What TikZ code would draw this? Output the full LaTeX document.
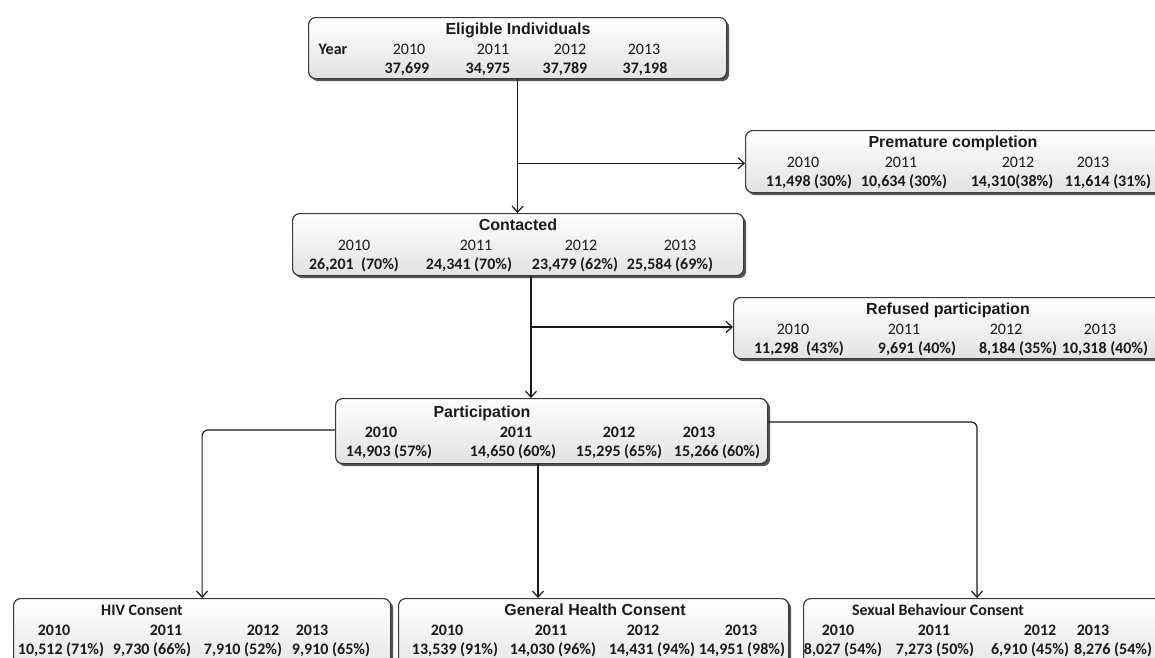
\documentclass[tikz,border=0pt]{standalone}
\usepackage{fontspec}
\setmainfont{Carlito}
\newfontfamily\headfont{Liberation Sans}
\usetikzlibrary{arrows.meta,shadows}
\definecolor{ink}{HTML}{1A1A1A}
\definecolor{edge}{HTML}{3A3A3A}
\definecolor{shade}{HTML}{E2E2E2}
\tikzset{
  stagebox/.style={draw=edge, line width=1.2pt, rounded corners=7pt,
    top color=white, bottom color=shade, anchor=north west, inner sep=0pt,
    drop shadow={shadow xshift=2.5pt, shadow yshift=-2.5pt, fill=black!75, opacity=0.9}},
  ttl/.style={font=\headfont\bfseries\fontsize{16}{18}\selectfont, text=ink, anchor=base, inner sep=0pt},
  ttlc/.style={font=\bfseries\fontsize{16}{18}\selectfont, text=ink, anchor=base, inner sep=0pt},
  yr/.style={font=\fontsize{16}{18}\selectfont, text=ink, anchor=base, inner sep=0pt},
  yrb/.style={font=\bfseries\fontsize{16}{18}\selectfont, text=ink, anchor=base, inner sep=0pt},
  num/.style={font=\bfseries\fontsize{16}{18}\selectfont, text=ink, anchor=base, inner sep=0pt},
  conn/.style={draw=ink, line width=1.2pt, rounded corners=6pt,
    -{Straight Barb[length=6pt,width=11pt]}},
}
\begin{document}
\begin{tikzpicture}[x=1pt, y=-1pt]
\useasboundingbox (0,0) rectangle (1155,657);
\clip (0,0) rectangle (1155,657);

% ---- stage boxes ----
\node[stagebox, minimum width=418pt, minimum height=61pt] (elig) at (308,17) {};
\node[stagebox, minimum width=430pt, minimum height=62pt] (prem) at (745,130) {};
\node[stagebox, minimum width=451pt, minimum height=62pt] (cont) at (292,213) {};
\node[stagebox, minimum width=440pt, minimum height=61pt] (refu) at (733,297) {};
\node[stagebox, minimum width=432pt, minimum height=65pt] (part) at (335,398) {};
\node[stagebox, minimum width=377pt, minimum height=80pt] (hiv)  at (13,598) {};
\node[stagebox, minimum width=390pt, minimum height=80pt] (gen)  at (398,598) {};
\node[stagebox, minimum width=370pt, minimum height=80pt] (sexb) at (803,598) {};

% ---- Eligible individuals ----
\node[ttl] (eT) at (518,34) {Eligible Individuals};
\node[yrb] (eY) at (333,54) {Year};
\node[yr] (eY1) at (409,54) {2010};
\node[yr] (eY2) at (493,54) {2011};
\node[yr] (eY3) at (570,54) {2012};
\node[yr] (eY4) at (644,54) {2013};
\node[num] (eN1) at (407,73) {37,699};
\node[num] (eN2) at (488,73) {34,975};
\node[num] (eN3) at (565,73) {37,789};
\node[num] (eN4) at (645,73) {37,198};

% ---- Premature completion ----
\node[ttl] (pT) at (953,147) {Premature completion};
\node[yr] (pY1) at (803,167) {2010};
\node[yr] (pY2) at (901,167) {2011};
\node[yr] (pY3) at (1018,167) {2012};
\node[yr] (pY4) at (1093,167) {2013};
\node[num] (pN1) at (809,186) {11,498 (30\%)};
\node[num] (pN2) at (904,186) {10,634 (30\%)};
\node[num] (pN3) at (1012,186) {14,310(38\%)};
\node[num] (pN4) at (1108,186) {11,614 (31\%)};

% ---- Contacted ----
\node[ttl] (cT) at (518,230) {Contacted};
\node[yr] (cY1) at (354,250) {2010};
\node[yr] (cY2) at (476,250) {2011};
\node[yr] (cY3) at (581,250) {2012};
\node[yr] (cY4) at (680,250) {2013};
\node[num] (cN1) at (354,269) {26,201 \ (70\%)};
\node[num] (cN2) at (469,269) {24,341 (70\%)};
\node[num] (cN3) at (575,269) {23,479 (62\%)};
\node[num] (cN4) at (670,269) {25,584 (69\%)};

% ---- Refused participation ----
\node[ttl] (rT) at (948,314) {Refused participation};
\node[yr] (rY1) at (793,334) {2010};
\node[yr] (rY2) at (904,334) {2011};
\node[yr] (rY3) at (1006,334) {2012};
\node[yr] (rY4) at (1100,334) {2013};
\node[num] (rN1) at (799,353) {11,298 \ (43\%)};
\node[num] (rN2) at (917,353) {9,691 (40\%)};
\node[num] (rN3) at (1018,353) {8,184 (35\%)};
\node[num] (rN4) at (1105,353) {10,318 (40\%)};

% ---- Participation ----
\node[ttl] (aT) at (482,417) {Participation};
\node[yrb] (aY1) at (381,437) {2010};
\node[yrb] (aY2) at (516,437) {2011};
\node[yrb] (aY3) at (619,437) {2012};
\node[yrb] (aY4) at (699,437) {2013};
\node[num] (aN1) at (389,456) {14,903 (57\%)};
\node[num] (aN2) at (513,456) {14,650 (60\%)};
\node[num] (aN3) at (619,456) {15,295 (65\%)};
\node[num] (aN4) at (717,456) {15,266 (60\%)};

% ---- HIV consent ----
\node[ttlc] (hT) at (142,615) {HIV Consent};
\node[yrb] (hY1) at (54,635) {2010};
\node[yrb] (hY2) at (166,635) {2011};
\node[yrb] (hY3) at (263,635) {2012};
\node[yrb] (hY4) at (312,635) {2013};
\node[num] (hN1) at (61,654) {10,512 (71\%)};
\node[num] (hN2) at (152,654) {9,730 (66\%)};
\node[num] (hN3) at (243,654) {7,910 (52\%)};
\node[num] (hN4) at (331,654) {9,910 (65\%)};

% ---- General health consent ----
\node[ttl] (gT) at (595,615) {General Health Consent};
\node[yrb] (gY1) at (447,635) {2010};
\node[yrb] (gY2) at (551,635) {2011};
\node[yrb] (gY3) at (643,635) {2012};
\node[yrb] (gY4) at (741,635) {2013};
\node[num] (gN1) at (455,654) {13,539 (91\%)};
\node[num] (gN2) at (553,654) {14,030 (96\%)};
\node[num] (gN3) at (652,654) {14,431 (94\%)};
\node[num] (gN4) at (742,654) {14,951 (98\%)};

% ---- Sexual behaviour consent ----
\node[ttlc] (sT) at (938,615) {Sexual Behaviour Consent};
\node[yrb] (sY1) at (838,635) {2010};
\node[yrb] (sY2) at (934,635) {2011};
\node[yrb] (sY3) at (1040,635) {2012};
\node[yrb] (sY4) at (1093,635) {2013};
\node[num] (sN1) at (843,654) {8,027 (54\%)};
\node[num] (sN2) at (935,654) {7,273 (50\%)};
\node[num] (sN3) at (1030,654) {6,910 (45\%)};
\node[num] (sN4) at (1113,654) {8,276 (54\%)};

% ---- junction points of the connectors ----
\path (elig.south) ++(0,84) coordinate (j1);
\coordinate (j2) at (531,327);
\coordinate (jl) at (0,430);
\coordinate (jr) at (0,422);
\coordinate (jg) at (538,0);
\coordinate (js) at (977,0);

% ---- connectors ----
\draw[conn] (elig.south) -- (elig.south |- cont.north);
\draw[conn] (j1) -- (j1 -| prem.west);
\draw[conn] (j2 |- cont.south) -- (j2 |- part.north);
\draw[conn] (j2) -- (j2 -| refu.west);
\draw[conn] (part.west |- jl) -| (hiv.north);
\draw[conn] (jg |- part.south) -- (jg |- gen.north);
\draw[conn] (part.east |- jr) -| (js |- sexb.north);
\end{tikzpicture}
\end{document}
